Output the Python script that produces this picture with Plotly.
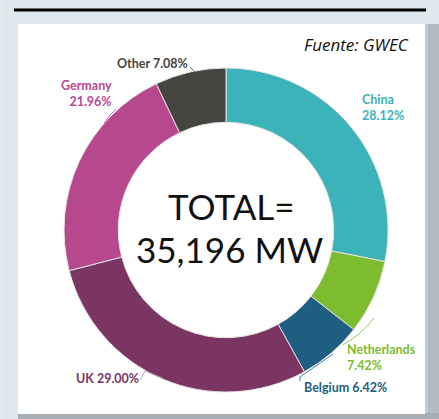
import plotly.graph_objects as go

W, H = 439, 419

countries = ["China", "Netherlands", "Belgium", "UK", "Germany", "Other"]
shares = [28.12, 7.42, 6.42, 29.00, 21.96, 7.08]
colors = ["#3bb3b8", "#7dbb2f", "#1e5e80", "#7a3563", "#b8488e", "#45443f"]
total_text = ["TOTAL=", "35,196 MW"]
source = "Fuente: GWEC"

fig = go.Figure()

fig.add_trace(go.Pie(
    labels=countries, values=shares, sort=False, direction="clockwise", rotation=0,
    hole=0.665, marker=dict(colors=colors, line=dict(color="#e4e4e4", width=1)),
    textinfo="none", hoverinfo="label+percent", showlegend=False,
    domain=dict(x=[64 / W, 388 / W], y=[1 - 392 / H, 1 - 68 / H]),
))

# label placement (pixel coords), text built from the data
lab = dict(zip(countries, shares))
col = dict(zip(countries, colors))
fnt = "Lato"
labels = [
    ("China", f"China<br>{lab['China']:.2f}%", 360, 107, "left"),
    ("Netherlands", f"Netherlands<br>{lab['Netherlands']:.2f}%", 345, 357, "left"),
    ("Belgium", f"Belgium {lab['Belgium']:.2f}%", 302, 387, "left"),
    ("UK", f"UK {lab['UK']:.2f}%", 141, 378, "right"),
    ("Germany", f"Germany<br>{lab['Germany']:.2f}%", 114, 93, "right"),
    ("Other", f"Other {lab['Other']:.2f}%", 190, 63, "right"),
]
ann = []
for k, txt, x, y, al in labels:
    ann.append(dict(x=x, y=y, xref="x", yref="y", text=f"<b>{txt}</b>", showarrow=False,
                    xanchor=al, yanchor="middle", align=al,
                    font=dict(family=fnt, size=12.5, color=col[k])))

ann.append(dict(x=231, y=206, xref="x", yref="y", text=total_text[0], showarrow=False,
                font=dict(family=fnt, size=35, color="#111111")))
ann.append(dict(x=229, y=249, xref="x", yref="y", text=total_text[1], showarrow=False,
                font=dict(family=fnt, size=35, color="#111111")))
ann.append(dict(x=411, y=44, xref="x", yref="y", text=source, showarrow=False, xanchor="right",
                font=dict(family="Open Sans", size=17, color="#111111", style="italic")))

shapes = [
    # frame, shadow, panel
    dict(type="rect", x0=0, x1=3, y0=0, y1=H, fillcolor="#e7eaeb", line_width=0, layer="below"),
    dict(type="rect", x0=425, x1=439, y0=24, y1=H, fillcolor="#c3cbd1", line_width=0, layer="below"),
    dict(type="rect", x0=428, x1=439, y0=24, y1=H, fillcolor="#b3bcc2", line_width=0, layer="below"),
    dict(type="rect", x0=18, x1=439, y0=413, y1=H, fillcolor="#a7afb4", line_width=0, layer="below"),
    dict(type="rect", x0=18, x1=425, y0=24, y1=414, fillcolor="white", line_width=0, layer="below"),
    dict(type="line", x0=14, x1=426, y0=10, y1=10, line=dict(color="black", width=3)),
    # leader lines
    dict(type="line", x0=190, x1=196, y0=67, y1=73, line=dict(color=col["Other"], width=0.8)),
    dict(type="path", path="M 116 109 Q 110 114 104 123", line=dict(color=col["Germany"], width=0.8)),
    dict(type="path", path="M 140 380 L 145 371 L 163 378", line=dict(color="#a890a0", width=0.8)),
    dict(type="path", path="M 300 381 L 300 377 L 333 354", line=dict(color=col["Belgium"], width=0.8)),
    dict(type="path", path="M 343 345 Q 362 334 374 318", line=dict(color=col["Netherlands"], width=0.8)),
]

fig.update_layout(
    width=W, height=H, margin=dict(l=0, r=0, t=0, b=0),
    paper_bgcolor="#dde7ee", plot_bgcolor="rgba(0,0,0,0)",
    xaxis=dict(range=[0, W], visible=False, fixedrange=True),
    yaxis=dict(range=[H, 0], visible=False, fixedrange=True),
    annotations=ann, shapes=shapes,
)

fig.write_html("out.html", config={"displayModeBar": False},
               post_script="document.body.style.margin='0';")
